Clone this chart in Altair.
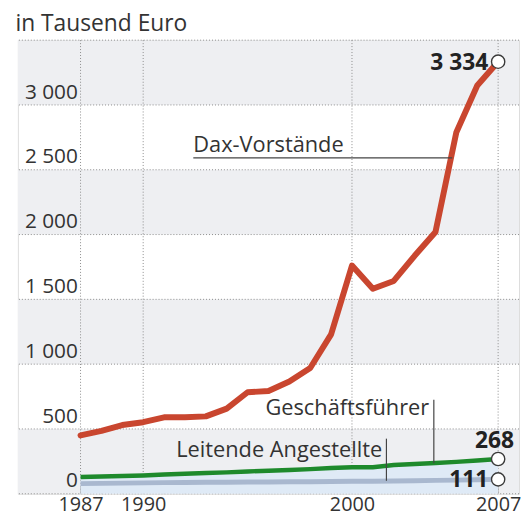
import altair as alt
import pandas as pd

years = list(range(1987, 2008))
dax = [450, 485, 530, 552, 590, 590, 597, 657, 783, 793, 866, 970, 1230,
       1761, 1582, 1642, 1836, 2020, 2790, 3150, 3334]
gf = [130, 133, 137, 141, 148, 155, 160, 165, 172, 178, 183, 190, 198,
      205, 205, 222, 230, 238, 246, 256, 268]
la = [78, 80, 82, 84, 86, 87, 88, 89, 90, 91, 92, 93, 95,
      96, 97, 99, 101, 103, 105, 108, 111]

band_lo = [0, 1000, 2000, 3000]
band_hi = [500, 1500, 2500, 3500]
grid_years = [1987, 1990, 2000, 2007]
grid_values = [0, 500, 1000, 1500, 2000, 2500, 3000, 3500]
y_labels = [0, 500, 1000, 1500, 2000, 2500, 3000]
shown_years = [1987, 1990, 2000, 2007]

FONT = "Open Sans"
TXT = "#333333"
W, H = 506, 458

df = pd.DataFrame({"year": years, "dax": dax, "gf": gf, "la": la})
bands = pd.DataFrame({"lo": band_lo, "hi": band_hi})
vgrid = pd.DataFrame({"year": grid_years})
hgrid = pd.DataFrame({"v": grid_values})
last = df[df.year == 2007]

xs = alt.Scale(domain=[1984, 2008], nice=False, zero=False)
ys = alt.Scale(domain=[0, 3500], nice=False, zero=False)

x_axis = alt.Axis(
    values=shown_years, format="d", grid=False, domain=False, ticks=False,
    labelFontSize=20, labelColor=TXT, labelFont=FONT, labelPadding=1,
    labelOverlap=False, labelFlush=False, labelBound=False, title=None, zindex=1)

y_axis = alt.Axis(values=y_labels, grid=False, domain=False, ticks=False,
                  labelExpr="replace(format(datum.value, ','), ',', ' ')",
                  labelAlign="right", labelBaseline="alphabetic", labelPadding=-60,
                  labelOffset=-7, labelFontSize=21, labelColor=TXT, labelFont=FONT,
                  labelOverlap=False, title=None, zindex=1)

XE = alt.X("year:Q", scale=xs, axis=x_axis)
def YE(f):
    return alt.Y(f, scale=ys, axis=y_axis)

band_layer = alt.Chart(bands).mark_rect(color="#eeeff2").encode(y=YE("lo:Q"), y2="hi:Q")

hgrid_layer = alt.Chart(hgrid).mark_rule(color="#8c8c8c", strokeDash=[1, 2], strokeWidth=1).encode(
    y=YE("v:Q"))

vgrid_layer = alt.Chart(vgrid).mark_rule(color="#8c8c8c", strokeDash=[1, 2], strokeWidth=1).encode(
    x=XE)

# small year ticks standing on the zero line
tick_layer = alt.Chart(df).mark_tick(color="#8c8c8c", orient="vertical", size=7, thickness=1,
                                     strokeDash=[1, 1]).encode(
    x=XE, y=alt.datum(0, scale=ys, axis=y_axis), yOffset=alt.value(-3.5))

area_layer = alt.Chart(df).mark_area(color="#dfeaf6", opacity=1).encode(x=XE, y=YE("gf:Q"))

line_la = alt.Chart(df).mark_line(color="#a9b8cf", strokeWidth=5).encode(x=XE, y=YE("la:Q"))
line_gf = alt.Chart(df).mark_line(color="#1e8a2c", strokeWidth=4.5).encode(x=XE, y=YE("gf:Q"))
line_dax = alt.Chart(df).mark_line(color="#c9462f", strokeWidth=6, strokeJoin="round",
                                   strokeCap="round").encode(x=XE, y=YE("dax:Q"))

def circles(field):
    return alt.Chart(last).mark_point(shape="circle", size=180, filled=True, color="white",
                                      stroke="#3a3a3a", strokeWidth=1.4, opacity=1).encode(
        x=XE, y=YE(field + ":Q"))

c_dax, c_gf, c_la = circles("dax"), circles("gf"), circles("la")

def vlabel(field, dx, dy, align, baseline):
    return alt.Chart(last).transform_calculate(
        lab="replace(format(datum['%s'], ','), ',', ' ')" % field).mark_text(
        font=FONT, fontSize=23, fontWeight="bold", color="#222",
        dx=dx, dy=dy, align=align, baseline=baseline).encode(
        x=XE, y=YE(field + ":Q"), text="lab:N")

t_dax = vlabel("dax", -10, 1, "right", "middle")
t_gf = vlabel("gf", 16, -11, "right", "alphabetic")
t_la = vlabel("la", -10, 1, "right", "middle")

def note(text, x, y, align):
    return alt.Chart().mark_text(text=text, font=FONT, fontSize=22, color=TXT,
                                 align=align, baseline="alphabetic").encode(
        x=alt.datum(x, scale=xs, axis=x_axis), y=alt.datum(y, scale=ys, axis=y_axis))

def leader(x1, x2, y1, y2):
    return alt.Chart().mark_rule(color="#444", strokeWidth=1.2).encode(
        x=alt.datum(x1, scale=xs, axis=x_axis), x2=alt.datum(x2),
        y=alt.datum(y1, scale=ys, axis=y_axis), y2=alt.datum(y2))

n_dax = note("Dax-Vorstände", 1992.4, 2640, "left")
l_dax = leader(1992.4, 2004.8, 2592, 2592)
n_gf = note("Geschäftsführer", 2003.7, 609, "right")
l_gf = leader(2003.92, 2003.92, 725, 236)
n_la = note("Leitende Angestellte", 2001.45, 285, "right")
l_la = leader(2001.65, 2001.65, 425, 100)

chart = alt.layer(
    band_layer, hgrid_layer, vgrid_layer, tick_layer, area_layer,
    line_la, line_gf, line_dax,
    l_dax, l_gf, l_la, n_dax, n_gf, n_la,
    c_dax, c_gf, c_la, t_dax, t_gf, t_la,
).properties(
    width=W, height=H,
    title=alt.Title("in Tausend Euro", anchor="start", fontSize=23, font=FONT, color=TXT,
                    fontWeight="normal", offset=4, dx=-2),
    padding={"left": 7, "top": 2, "right": 0, "bottom": 0},
).configure_view(stroke=None).configure(background="white")

chart.save("out.html", embed_options={"renderer": "svg", "actions": False})
